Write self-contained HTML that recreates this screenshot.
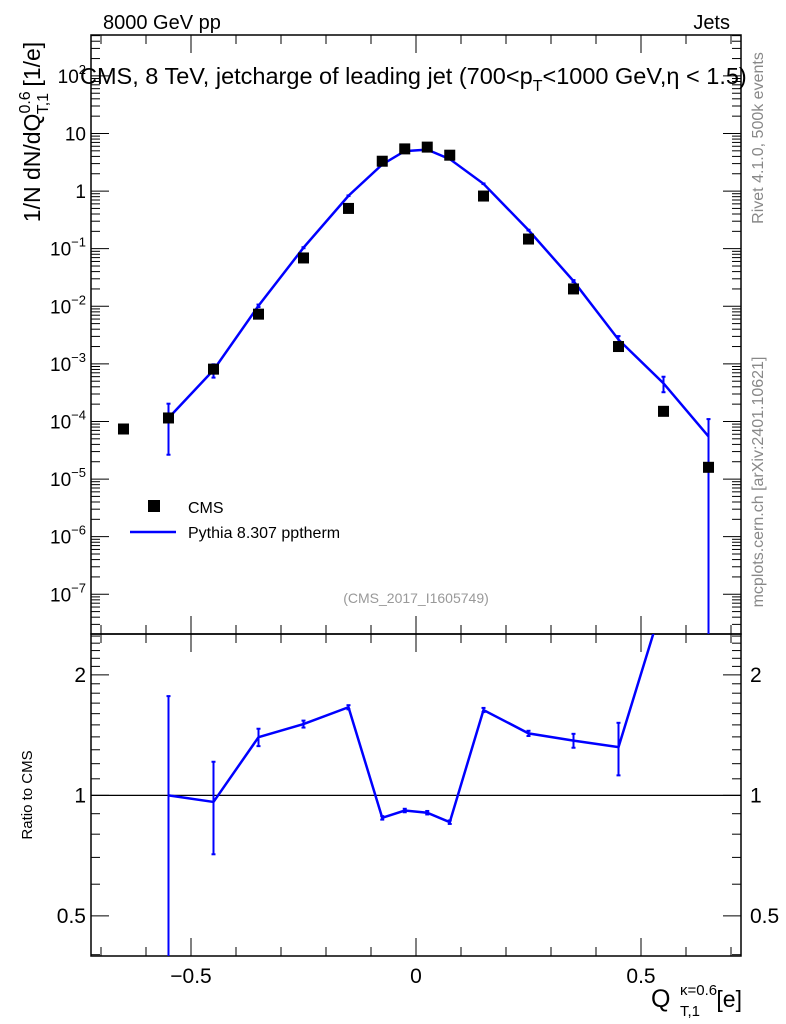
<!DOCTYPE html>
<html><head><meta charset="utf-8"><style>
html,body{margin:0;padding:0;background:#fff;}
svg{display:block;font-family:"Liberation Sans",sans-serif;}
</style></head><body>
<svg id="c" width="786" height="1024" viewBox="0 0 786 1024" xmlns="http://www.w3.org/2000/svg">
<text x="103" y="29" font-size="20">8000 GeV pp</text>
<text x="730" y="29" font-size="20" text-anchor="end">Jets</text>
<text x="80" y="84" font-size="23.5">CMS, 8 TeV, jetcharge of leading jet (700&lt;p<tspan font-size="16" dy="7">T</tspan><tspan dy="-7">&lt;1000 GeV,η &lt; 1.5)</tspan></text>
<text transform="translate(40,132) rotate(-90)" font-size="23" text-anchor="middle">1/N dN/dQ<tspan font-size="16" dy="-10">0.6</tspan><tspan font-size="16" dx="-23" dy="18">T,1</tspan><tspan dy="-8"> [1/e]</tspan></text>
<text transform="translate(32,795) rotate(-90)" font-size="15" text-anchor="middle">Ratio to CMS</text>
<text transform="translate(763,138) rotate(-90)" font-size="16" fill="#888" text-anchor="middle">Rivet 4.1.0,  500k events</text>
<text transform="translate(763,482) rotate(-90)" font-size="16" fill="#888" text-anchor="middle">mcplots.cern.ch [arXiv:2401.10621]</text>
<text x="416" y="603" font-size="14" fill="#999" text-anchor="middle">(CMS_2017_I1605749)</text>
<g>
<text x="651" y="1007" font-size="25">Q</text>
<text x="680" y="995" font-size="15">κ=0.6</text>
<text x="680" y="1016" font-size="15">T,1</text>
<text x="742" y="1007" font-size="23" text-anchor="end">[e]</text>
</g>
<g id="g"></g>
</svg>
<script>
const xCenters=[-0.65,-0.55,-0.45,-0.35,-0.25,-0.15,-0.075,-0.025,0.025,0.075,0.15,0.25,0.35,0.45,0.55,0.65];
const cmsValues=[7.4e-5,1.15e-4,8.1e-4,7.3e-3,0.069,0.50,3.3,5.4,5.8,4.2,0.82,0.147,0.020,2.0e-3,1.5e-4,1.6e-5];
const mcValues=[null,1.15e-4,7.8e-4,1.02e-2,0.104,0.83,2.9,4.95,5.25,3.6,1.34,0.21,0.0274,2.64e-3,4.6e-4,5.5e-5];
const mcRelErr=[null,0.77,0.26,0.05,0.02,0.012,0.01,0.01,0.01,0.01,0.012,0.015,0.04,0.15,0.3,1.0];
const xTicks=[-0.5,0,0.5];
const xTickLabels=["−0.5","0","0.5"];
const yDecades=[-7,-6,-5,-4,-3,-2,-1,0,1,2];
const yDecadeLabels=["10<sup>−7</sup>","10<sup>−6</sup>","10<sup>−5</sup>","10<sup>−4</sup>","10<sup>−3</sup>","10<sup>−2</sup>","10<sup>−1</sup>","1","10","10<sup>2</sup>"];
const rTicks=[0.5,1,2];
const rTickLabels=["0.5","1","2"];

const NS="http://www.w3.org/2000/svg";
const g=document.getElementById('g');
const L=91,R=741,T=35,B=634,RT=634,RB=956;
const xmin=-0.7222,xmax=0.7222;
const ymaxL=2.71,yminL=-7.69;
const rmaxL=Math.log10(2.53),rminL=Math.log10(0.397);
function X(v){return L+(v-xmin)/(xmax-xmin)*(R-L);}
function Y(v){return T+(ymaxL-Math.log10(v))/(ymaxL-yminL)*(B-T);}
function RY(v){return RT+(rmaxL-Math.log10(v))/(rmaxL-rminL)*(RB-RT);}
function el(tag,attrs,parent){const e=document.createElementNS(NS,tag);for(const k in attrs)e.setAttribute(k,attrs[k]);(parent||g).appendChild(e);return e;}
function line(x1,y1,x2,y2,st,w){return el('line',{x1,y1,x2,y2,stroke:st||'#000','stroke-width':w||1});}

const defs=el('defs',{});
const cp1=el('clipPath',{id:'cm'},defs);el('rect',{x:L,y:T,width:R-L,height:B-T},cp1);
const cp2=el('clipPath',{id:'cr'},defs);el('rect',{x:L,y:RT,width:R-L,height:RB-RT},cp2);

const f1=el('rect',{x:L,y:T,width:R-L,height:B-T,fill:'none',stroke:'#000','stroke-width':1.5});


const f2=el('rect',{x:L,y:RT,width:R-L,height:RB-RT,fill:'none',stroke:'#000','stroke-width':1.5});



for(let i=-7;i<=7;i++){const v=i*0.1;const x=X(v);const big=(i%5===0);const len=big?18:9;
 line(x,T,x,T+len);line(x,B,x,B-len);line(x,RT,x,RT+len);line(x,RB,x,RB-len);}
xTicks.forEach((v,i)=>{const t=el('text',{x:X(v),y:983,'font-size':21,'text-anchor':'middle'});t.textContent=xTickLabels[i];
 
 });

for(let d=-8;d<=2;d++){for(let m=1;m<10;m++){const v=m*Math.pow(10,d);const lv=Math.log10(v);if(lv<yminL||lv>ymaxL)continue;
 const y=Y(v);const len=m===1?18:9;line(L,y,L+len,y);line(R,y,R-len,y);}}
yDecades.forEach((d,i)=>{const y=Y(Math.pow(10,d));const lab=yDecadeLabels[i];
 const t=el('text',{x:86,y:y+7,'font-size':19,'text-anchor':'end'});
 
 
 if(lab.indexOf('<sup>')>=0){const base=lab.split('<sup>')[0];const sup=lab.split('<sup>')[1].replace('</sup>','');
  const a=el('tspan',{},t);a.textContent=base;const b=el('tspan',{'font-size':13,dy:-9},t);b.textContent=sup;}
 else t.textContent=lab;});

[0.4,0.5,0.6,0.7,0.8,0.9,1,1.1,1.2,1.3,1.4,1.5,1.6,1.7,1.8,1.9,2,2.1,2.2,2.3,2.4,2.5].forEach(v=>{
 const y=RY(v);const len=(v===0.5||v===1||v===2)?18:9;line(L,y,L+len,y);line(R,y,R-len,y);});
rTicks.forEach((v,i)=>{const y=RY(v)+7;
 const t=el('text',{x:86,y,'font-size':21,'text-anchor':'end'});t.textContent=rTickLabels[i];
 
 
 const t2=el('text',{x:750,y,'font-size':21});t2.textContent=rTickLabels[i];
 
 });
line(L,RY(1),R,RY(1),'#000',1.2);

const gm=el('g',{'clip-path':'url(#cm)'});
let pts=[];xCenters.forEach((x,i)=>{if(mcValues[i]!=null)pts.push(X(x)+','+Y(mcValues[i]));});
const pl=el('polyline',{points:pts.join(' '),fill:'none',stroke:'#0000ff','stroke-width':2.5},gm);


xCenters.forEach((x,i)=>{if(mcValues[i]==null)return;const v=mcValues[i],e=mcRelErr[i];
 const hi=v*(1+e),lo=v*(1-e);const y1=Y(hi),y2=lo>0?Y(lo):B+5;
 const eb=el('line',{x1:X(x),y1,x2:X(x),y2,stroke:'#0000ff','stroke-width':2},gm);
 
 
 el('line',{x1:X(x)-2,y1,x2:X(x)+2,y2:y1,stroke:'#0000ff','stroke-width':2},gm);
 if(lo>0)el('line',{x1:X(x)-2,y1:y2,x2:X(x)+2,y2:y2,stroke:'#0000ff','stroke-width':2},gm);});
xCenters.forEach((x,i)=>{const r=el('rect',{x:X(x)-5.5,y:Y(cmsValues[i])-5.5,width:11,height:11,fill:'#000'},gm);
 
 });

const gr=el('g',{'clip-path':'url(#cr)'});
let rp=[];xCenters.forEach((x,i)=>{if(mcValues[i]!=null)rp.push(X(x)+','+RY(mcValues[i]/cmsValues[i]));});
const rl=el('polyline',{points:rp.join(' '),fill:'none',stroke:'#0000ff','stroke-width':2.5},gr);


xCenters.forEach((x,i)=>{if(mcValues[i]==null)return;const r=mcValues[i]/cmsValues[i],e=mcRelErr[i];
 if(RY(r)<RT)return;
 const hi=r*(1+e),lo=r*(1-e);const y1=RY(hi),y2=lo>0?RY(lo):RB+5;
 const eb=el('line',{x1:X(x),y1,x2:X(x),y2,stroke:'#0000ff','stroke-width':2},gr);
 
 
 el('line',{x1:X(x)-2,y1,x2:X(x)+2,y2:y1,stroke:'#0000ff','stroke-width':2},gr);
 el('line',{x1:X(x)-2,y1:y2,x2:X(x)+2,y2:y2,stroke:'#0000ff','stroke-width':2},gr);});

const lg=el('g',{});


el('rect',{x:148,y:500,width:12,height:12,fill:'#000'},lg);
const t1=el('text',{x:188,y:513,'font-size':16},lg);t1.textContent='CMS';
el('line',{x1:130,y1:532,x2:176,y2:532,stroke:'#0000ff','stroke-width':2.5},lg);
const t2=el('text',{x:188,y:538,'font-size':16},lg);t2.textContent='Pythia 8.307 pptherm';
</script>
</body></html>
